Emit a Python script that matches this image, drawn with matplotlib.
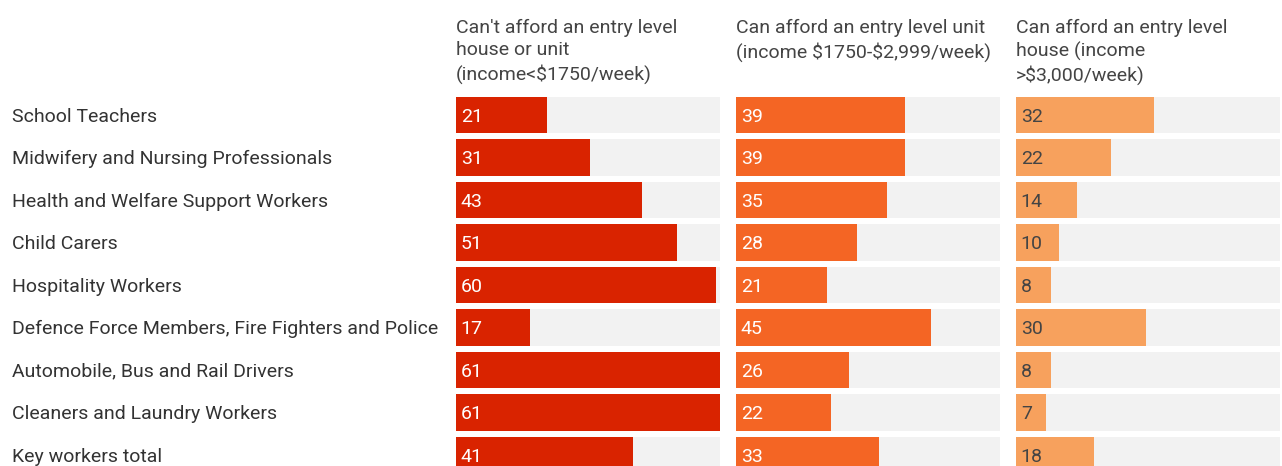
import matplotlib
matplotlib.use("Agg")
import matplotlib.pyplot as plt

plt.rcParams['font.family'] = ['Roboto', 'DejaVu Sans']
plt.rcParams['text.parse_math'] = False

occupations = [
    "School Teachers",
    "Midwifery and Nursing Professionals",
    "Health and Welfare Support Workers",
    "Child Carers",
    "Hospitality Workers",
    "Defence Force Members, Fire Fighters and Police",
    "Automobile, Bus and Rail Drivers",
    "Cleaners and Laundry Workers",
    "Key workers total",
]
cant_afford = [21, 31, 43, 51, 60, 17, 61, 61, 41]
afford_unit = [39, 39, 35, 28, 21, 45, 26, 22, 33]
afford_house = [32, 22, 14, 10, 8, 30, 8, 7, 18]

headers = [
    "Can't afford an entry level\nhouse or unit\n(income<$1750/week)",
    "Can afford an entry level unit\n(income $1750-$2,999/week)",
    "Can afford an entry level\nhouse (income\n>$3,000/week)",
]
series = [cant_afford, afford_unit, afford_house]
colors = ["#D92300", "#F46524", "#F7A15D"]
label_colors = ["white", "white", "#444444"]
scale_max = 61

W, H = 1282, 466
fig = plt.figure(figsize=(W / 100, H / 100), dpi=100)
fig.patch.set_facecolor("white")

n = len(occupations)
first_center = 115.0
pitch = 42.5
row_top = first_center - pitch / 2
row_bottom = row_top + pitch * n
ax_bottom = 1 - row_bottom / H
ax_height = (row_bottom - row_top) / H

panel_left = [456, 736, 1016]
panel_width = 264
fs = 14

for k in range(3):
    ax = fig.add_axes([panel_left[k] / W, ax_bottom, panel_width / W, ax_height])
    ax.set_xlim(0, scale_max)
    ax.set_ylim(n - 0.5, -0.5)
    ypos = list(range(n))
    ax.barh(ypos, [scale_max] * n, height=0.85, color="#F2F2F2", linewidth=0)
    ax.barh(ypos, series[k], height=0.85, color=colors[k], linewidth=0)
    for y, v in zip(ypos, series[k]):
        ax.text(1.1, y + 0.04, str(v), va="center", ha="left", fontsize=fs,
                color=label_colors[k], clip_on=False)
    ax.axis("off")
    fig.text(panel_left[k] / W, 1 - 19 / H, headers[k], ha="left", va="top",
             fontsize=fs, color="#444444", linespacing=1.3)

for i, name in enumerate(occupations):
    yc = first_center + pitch * i + 1.5
    fig.text(12 / W, 1 - yc / H, name, ha="left", va="center",
             fontsize=fs, color="#333333")

fig.savefig("out.png", dpi=100)
